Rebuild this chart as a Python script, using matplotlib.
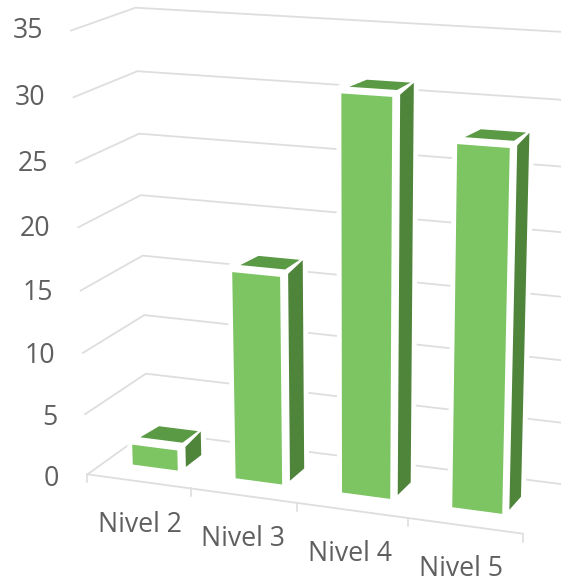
import numpy as np
import matplotlib
matplotlib.use("Agg")
import matplotlib.pyplot as plt
from matplotlib.patches import Polygon

categories = ["Nivel 2", "Nivel 3", "Nivel 4", "Nivel 5"]
values = [2, 17, 31.3, 28.2]
y_ticks = [0, 5, 10, 15, 20, 25, 30, 35]

W, H = 561, 582
FRONT, TOP, SIDE = "#7DC463", "#5A9A45", "#4F843B"
GRID, TEXT = "#DEDEDE", "#5F5F5F"

# Camera calibration: scene (category, value, depth) -> canvas pixel
scene = np.array([
    (0, 0, 0), (0, 35, 0), (0, 0, 1), (0, 35, 1),
    (4, 0, 0), (4, 0, 1), (4, 35, 1), (0, 15, 0), (0, 15, 1),
], float)
canvas = np.array([
    (88, 476), (72, 29), (148, 430), (135, 9),
    (521, 534), (566, 484), (578, 33), (81, 290), (141, 256),
], float)
rows = []
for (a, b, c), (u, v) in zip(scene, canvas):
    rows.append([a, b, c, 1, 0, 0, 0, 0, -u*a, -u*b, -u*c, -u])
    rows.append([0, 0, 0, 0, a, b, c, 1, -v*a, -v*b, -v*c, -v])
P = np.linalg.svd(np.array(rows))[2][-1].reshape(3, 4)


def project(c, v, d):
    q = P @ np.array([c, v, d, 1.0])
    return q[0] / q[2], q[1] / q[2]


fig = plt.figure(figsize=(W / 100, H / 100), dpi=100)
ax = fig.add_axes([0, 0, 1, 1])
ax.set_xlim(0, W)
ax.set_ylim(H, 0)
ax.axis("off")
font = dict(family="Open Sans", color=TEXT, fontsize=19.2)

# Wall and floor gridlines
for t in y_ticks:
    pts = [project(0, t, 0), project(0, t, 1), project(4, t, 1)]
    ax.plot(*zip(*pts), color=GRID, lw=1.3, zorder=1, solid_joinstyle="miter")
    x, y = project(0, t, 0)
    ax.text(x - 28, y + 5 * (1 - t / 35), str(t), ha="right", va="center", **font)

# Category axis and ticks
ax.plot(*zip(project(0, 0, 0), project(4, 0, 0)), color=GRID, lw=1.3, zorder=1)
for i in range(len(categories) + 1):
    x, y = project(i, 0, 0)
    ax.plot([x, x], [y, y + 8], color=GRID, lw=1.2, zorder=1)
for i, name in enumerate(categories):
    x, y = project(i + 0.5, 0, 0)
    ax.text(x + 1 - 1.5 * i, y + 43.5, name, ha="center", va="center", **font)

# Bars
half, d0, d1 = 0.235, 0.30, 0.66
bevel_c, bevel_v, bevel_d = 0.028, 0.32, 0.09


def face(corners, color, z, edge="none", lw=0):
    ax.add_patch(Polygon([project(*p) for p in corners], closed=True, fc=color,
                         ec=edge, lw=lw, zorder=z, joinstyle="round"))


for i, val in enumerate(values):
    c0, c1 = i + 0.5 - half, i + 0.5 + half
    z = 2 + i
    # white halo hiding the gridlines behind the bar
    outline = [(c0, 0, d0), (c1, 0, d0), (c1, 0, d1), (c1, val, d1), (c0, val, d1), (c0, val, d0)]
    face(outline, "white", z, edge="white", lw=7)
    face([(c0, 0, d0), (c1 - bevel_c, 0, d0), (c1 - bevel_c, val - bevel_v, d0), (c0, val - bevel_v, d0)], FRONT, z)
    face([(c1, 0, d0 + bevel_d), (c1, 0, d1), (c1, val, d1), (c1, val - bevel_v, d0 + bevel_d)], SIDE, z)
    face([(c0 + bevel_c, val, d0 + bevel_d), (c1 - bevel_c, val, d0 + bevel_d), (c1 - bevel_c, val, d1), (c0 + 2 * bevel_c, val, d1)], TOP, z)

fig.savefig("out.png", dpi=100, facecolor="white")
